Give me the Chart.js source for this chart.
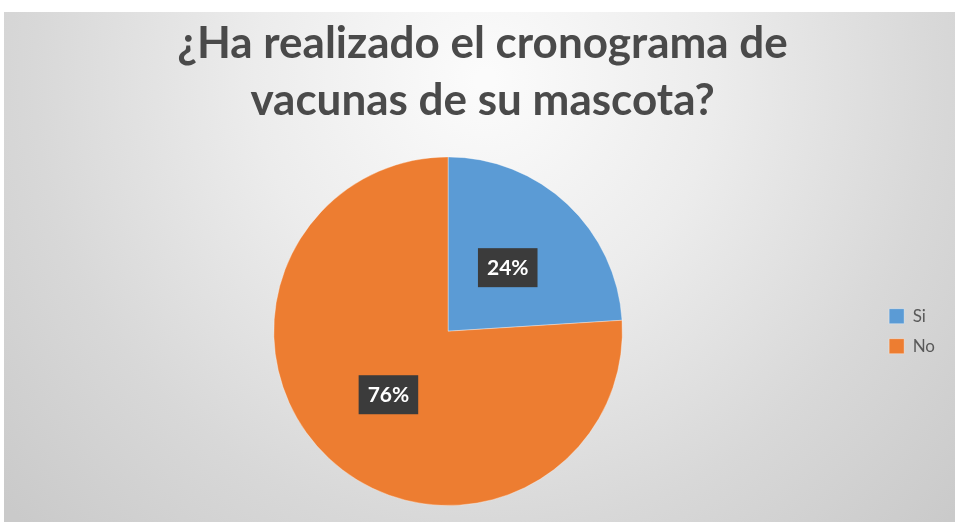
<!DOCTYPE html>
<html>
<head>
<meta charset="utf-8">
<script src="https://cdn.jsdelivr.net/npm/chart.js@4"></script>
<style>
  html, body { margin: 0; padding: 0; background: #ffffff; }
  #wrap { width: 955px; height: 522px; }
</style>
</head>
<body>
<div id="wrap"><canvas id="pieChart"></canvas></div>
<script>
// Chart data
const categories = ['Si', 'No'];
const percentValues = [24, 76];
const sliceColors = ['#5B9BD5', '#ED7D31'];
const titleLines = ['¿Ha realizado el cronograma de', 'vacunas de su mascota?'];

// Grey gradient panel behind the chart (like the Excel chart area)
const panelBackground = {
    id: 'panelBackground',
    beforeDraw(chart) {
        const ctx = chart.ctx;
        const w = chart.width, h = chart.height;
        ctx.save();
        ctx.fillStyle = '#ffffff';
        ctx.fillRect(0, 0, w, h);
        const g = ctx.createRadialGradient(485, 80, 10, 485, 80, 640);
        g.addColorStop(0, '#fbfbfb');
        g.addColorStop(0.35, '#ececec');
        g.addColorStop(0.7, '#d8d8d8');
        g.addColorStop(1, '#cacaca');
        ctx.fillStyle = g;
        ctx.fillRect(4, 12, w - 4, h - 12);
        ctx.restore();
    }
};

// Percentage labels in dark boxes at each slice's centre point
const sliceLabels = {
    id: 'sliceLabels',
    afterDatasetsDraw(chart) {
        const ctx = chart.ctx;
        const meta = chart.getDatasetMeta(0);
        ctx.save();
        ctx.font = 'bold 21px Lato';
        ctx.textAlign = 'center';
        ctx.textBaseline = 'middle';
        meta.data.forEach((arc, i) => {
            const pos = arc.tooltipPosition();
            const text = percentValues[i] + '%';
            const tw = ctx.measureText(text).width;
            const bw = tw + 18, bh = 39;
            ctx.fillStyle = '#3b3b3b';
            ctx.fillRect(pos.x - bw / 2, pos.y - bh / 2, bw, bh);
            ctx.fillStyle = '#ffffff';
            ctx.fillText(text, pos.x, pos.y + 1);
        });
        ctx.restore();
    }
};

function initPieChart() {
    const ctx = document.getElementById('pieChart').getContext('2d');
    const chart = new Chart(ctx, {
        type: 'pie',
        data: {
            labels: categories,
            datasets: [{
                data: percentValues,
                backgroundColor: sliceColors,
                borderColor: 'rgba(255,255,255,0.35)',
                borderWidth: 1
            }]
        },
        options: {
            responsive: true,
            maintainAspectRatio: false,
            animation: false,
            layout: {
                padding: { left: 20, right: 10, top: 12, bottom: 16 }
            },
            plugins: {
                title: {
                    display: true,
                    text: titleLines,
                    color: '#4a4a4a',
                    font: { family: 'Lato', size: 44, weight: 'bold', lineHeight: 1.3 },
                    padding: { top: 3, bottom: 27 }
                },
                legend: {
                    position: 'right',
                    fullSize: false,
                    labels: {
                        color: '#595959',
                        font: { family: 'Lato', size: 17 },
                        boxWidth: 15,
                        boxHeight: 15,
                        padding: 13
                    }
                },
                tooltip: { enabled: false }
            }
        },
        plugins: [panelBackground, sliceLabels]
    });
}

document.addEventListener('DOMContentLoaded', initPieChart);
</script>
</body>
</html>
